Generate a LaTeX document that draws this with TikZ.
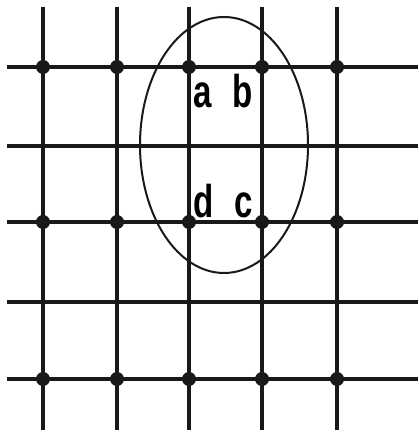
\documentclass[tikz,border=0pt]{standalone}
\usepackage{fontspec}
\setsansfont{Liberation Sans}
\usepackage{tikz}
\usetikzlibrary{positioning,calc}

\begin{document}
\begin{tikzpicture}[x=1pt, y=-1pt,
    gridline/.style={line width=3.4pt, black!90},
    site/.style={circle, fill=black!90, inner sep=0pt, minimum size=14pt},
    letter/.style={font=\sffamily\bfseries\fontsize{46}{46}\selectfont, xscale=0.72, inner sep=0pt, anchor=base}]

    \useasboundingbox (0,0) rectangle (418,438);

    % vertical lines
    \foreach \x in {43,117,189,262,337}
        \draw[gridline] (\x,7) -- (\x,430);

    % horizontal lines
    \foreach \y in {67,146,222,302,379}
        \draw[gridline] (7,\y) -- (418,\y);

    % lattice sites on rows 1, 3 and 5
    \foreach \y/\r in {67/1,222/3,379/5}
        \foreach \x/\c in {43/1,117/2,189/3,262/4,337/5}
            \node[site] (s\r\c) at (\x,\y) {};

    % the ring round the plaquette
    \draw[line width=2pt, black!90] (224,145) ellipse [x radius=84, y radius=128];

    % corner labels
    \node[letter] (la) at ($(s13)+(14,41)$) {a};
    \node[letter] (lb) at ($(s14)+(-19,41)$) {b};
    \node[letter] (ld) at ($(s33)+(15,-5)$) {d};
    \node[letter] (lc) at ($(s34)+(-18,-5)$) {c};
\end{tikzpicture}
\end{document}
